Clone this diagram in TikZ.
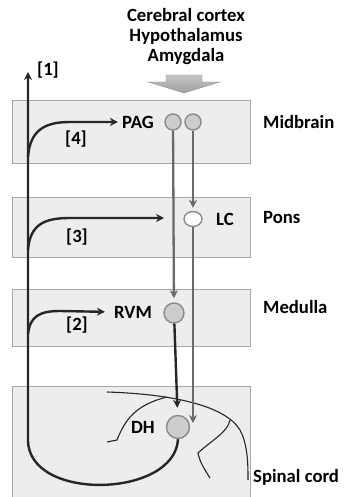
\documentclass[tikz,border=0pt]{standalone}
\usepackage{fontspec}
\setmainfont{Carlito}
\usetikzlibrary{arrows.meta,shapes.geometric}
\definecolor{boxfill}{HTML}{EDEDED}
\definecolor{boxline}{HTML}{A8A8A8}
\definecolor{cellfill}{HTML}{CDCDCD}
\definecolor{cellline}{HTML}{8A8A8A}
\definecolor{grayline}{HTML}{6A6A6A}
\tikzset{
  region/.style={draw=boxline, fill=boxfill, line width=1.3pt, inner sep=0pt, minimum width=238pt},
  lbl/.style={font=\bfseries\fontsize{18.7}{22}\selectfont, inner sep=0pt},
  cell/.style={circle, draw=cellline, fill=cellfill, line width=1.4pt, inner sep=0pt},
  blk/.style={line width=2.4pt, draw=black!85},
  gry/.style={line width=2.3pt, draw=grayline},
  tip/.style={-{Stealth[length=8pt,width=8pt]}},
  thin/.style={line width=1.1pt, draw=black!85}
}
\begin{document}
\begin{tikzpicture}[x=1pt,y=-1pt]
\useasboundingbox (0,0) rectangle (353,497);
% boxes
\node[region, minimum height=63pt, anchor=north west] (mid) at (12,100) {};
\node[region, minimum height=60pt, anchor=north west] (pons) at (12,197) {};
\node[region, minimum height=57pt, anchor=north west] (med) at (12,289) {};
\node[region, minimum height=114pt, anchor=north west] (sc) at (12,386) {};
% top text
\node[lbl] (t1) at (186,15) {Cerebral cortex};
\node[lbl] (t2) at (186,36) {Hypothalamus};
\node[lbl] (t3) at (186,57) {Amygdala};
% big arrow
\draw[draw=gray!80, top color=gray!45, bottom color=gray!75] (166,75) -- (202,75) -- (202,82) -- (220,82) -- (184,93) -- (148,82) -- (166,82) -- cycle;
% region labels
\node[lbl, anchor=west] (lmid) at (263,122) {Midbrain};
\node[lbl, anchor=west] (lpons) at (263,218) {Pons};
\node[lbl, anchor=west] (lmed) at (263,307) {Medulla};
\node[lbl, anchor=west] (lsc) at (253,477) {Spinal cord};
% spinal cord outline
\draw[thin] (107,392) .. controls (170,394) and (225,405) .. (240,430) .. controls (248,445) and (248,465) .. (248,480);
\draw[thin] (107,442) -- (117,440) .. controls (125,420) and (135,405) .. (167,397);
\draw[thin] (230,420) .. controls (228,432) and (212,440) .. (198,453) .. controls (200,463) and (205,470) .. (210,478);
% cells
\node[cell, minimum size=16pt] (pag1) at (173,122) {};
\node[cell, minimum size=16pt] (pag2) at (193,122) {};
\node[ellipse, draw=cellline, fill=white, line width=1.4pt, minimum width=18pt, minimum height=15pt, inner sep=0pt] (lc) at (193,219) {};
\node[cell, minimum size=20pt] (rvm) at (174,313) {};
\node[cell, minimum size=23pt] (dh) at (178,427) {};
% cell labels
\node[lbl] (tpag) at (138,122) {PAG};
\node[lbl] (tlc) at (225,219) {LC};
\node[lbl] (trvm) at (133,312) {RVM};
\node[lbl] (tdh) at (143,427) {DH};
\node[lbl] (n1) at (48,70) {[1]};
\node[lbl] (n4) at (76,139) {[4]};
\node[lbl] (n3) at (77,237) {[3]};
\node[lbl] (n2) at (77,325) {[2]};
% descending connections
\draw[gry, tip, shorten >=4pt] (pag1) -- (rvm);
\draw[gry, tip, shorten >=3pt] (pag2) -- (lc);
\coordinate (lcend) at (193,423);
\draw[gry, tip] (lc) -- (lcend);
\draw[blk, tip, shorten >=7pt] (rvm) -- (dh);
% ascending pathway [1]
\coordinate (top) at (28,72);
\draw[blk, tip] (dh.south) .. controls (175,498) and (28,502) .. (28,440) -- (top);
% branches
\coordinate (b4) at (28,157);
\coordinate (b3) at (28,250);
\coordinate (b2) at (28,334);
\draw[blk, tip, shorten >=4pt] (b4) .. controls (30,130) and (45,122) .. (70,122) -- (tpag.west);
\coordinate (e3) at (164,218);
\draw[blk, tip] (b3) .. controls (30,224) and (45,218) .. (70,218) -- (e3);
\draw[blk, tip, shorten >=9pt] (b2) .. controls (30,316) and (40,311) .. (60,311) -- (trvm.west);
\end{tikzpicture}
\end{document}
